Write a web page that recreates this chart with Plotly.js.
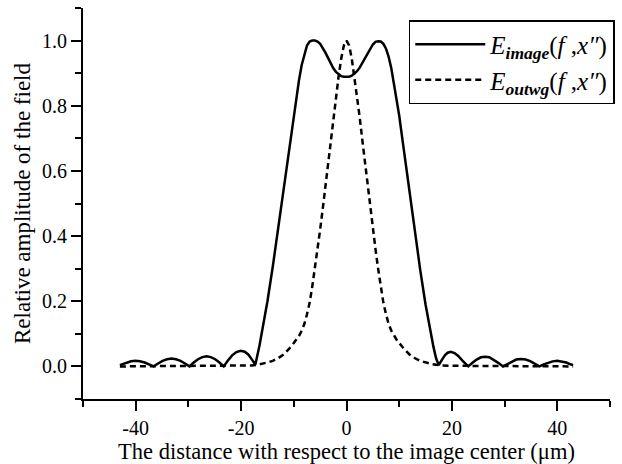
<!DOCTYPE html>
<html>
<head>
<meta charset="utf-8">
<script src="https://cdn.plot.ly/plotly-3.0.1.min.js"></script>
<style>body{margin:0;padding:0;background:#fff;} #chart{width:622px;height:464px;}</style>
</head>
<body>
<div id="chart"></div>
<script>
// E_image(f, x'') — solid curve
const imageX = [-43, -42.6, -41.8, -40.9, -40.05, -39.2, -38.3, -37.5, -36.6,
  -35.75, -34.9, -34.05, -33.2, -32.35, -31.5, -30.65, -29.8,
  -28.99, -28.17, -27.36, -26.55, -25.74, -24.92, -24.11, -23.3,
  -22.5, -21.7, -20.9, -20.1, -19.3, -18.6, -17.9, -17.3,
  -16.5, -16, -15.5, -15, -14, -13, -12, -11, -10.5, -10, -9.5, -9, -8.5, -8, -7.5, -7, -6.5, -6,
  -5.5, -5, -4.5, -4, -3.5, -3, -2.5, -2, -1.5, -1, -0.5, 0,
  0.5, 1, 1.5, 2, 2.5, 3, 3.5, 4, 4.5, 5, 5.5, 6, 6.5, 7, 7.5, 8, 8.5, 9, 9.5, 10, 10.5, 11,
  12, 13, 14, 15, 15.5, 16, 16.5, 17, 17.5,
  18.1, 18.7, 19.2, 19.8, 20.5, 21.2, 22, 22.6, 23.1,
  23.9, 24.7, 25.5, 26.3, 27.1, 27.9, 28.8, 29.7,
  30.55, 31.4, 32.2, 33.1, 34, 34.85, 35.7, 36.6,
  37.45, 38.3, 39.1, 40, 40.9, 41.7, 42.5, 43];
const imageY = [0.004, 0.0065, 0.012, 0.0157, 0.017, 0.0157, 0.012, 0.0065, 0.0,
  0.009, 0.017, 0.022, 0.024, 0.022, 0.017, 0.009, 0.0,
  0.012, 0.022, 0.0285, 0.031, 0.0285, 0.022, 0.012, 0.0,
  0.018, 0.034, 0.044, 0.048, 0.045, 0.036, 0.02, 0.005,
  0.065, 0.11, 0.155, 0.2, 0.305, 0.42, 0.54, 0.66, 0.72, 0.78, 0.835, 0.88, 0.925, 0.96, 0.985, 0.997, 1.0, 1.0,
  0.997, 0.99, 0.978, 0.963, 0.947, 0.93, 0.915, 0.904, 0.896, 0.891, 0.889, 0.888,
  0.889, 0.892, 0.898, 0.906, 0.917, 0.931, 0.947, 0.963, 0.977, 0.988, 0.996, 0.998, 0.997, 0.99, 0.975, 0.95, 0.915, 0.87, 0.825, 0.77, 0.71, 0.65,
  0.53, 0.41, 0.295, 0.19, 0.145, 0.1, 0.06, 0.025, 0.004,
  0.02, 0.035, 0.042, 0.045, 0.041, 0.032, 0.018, 0.008, 0.0,
  0.011, 0.021, 0.028, 0.03, 0.028, 0.021, 0.011, 0.0,
  0.008, 0.016, 0.021, 0.023, 0.021, 0.016, 0.008, 0.0,
  0.0065, 0.012, 0.0155, 0.017, 0.0155, 0.012, 0.0065, 0.004];

// E_outwg(f, x'') — dashed curve
const outwgX = [-43, -35, -30, -25, -20, -18, -17, -16, -15, -14, -13, -12, -11, -10, -9.5, -9, -8.5, -8, -7.5, -7, -6.5, -6,
  -5.5, -5, -4.5, -4, -3.5, -3, -2.5, -2, -1.5, -1, -0.5, 0,
  0.5, 1, 1.5, 2, 2.5, 3, 3.5, 4, 4.5, 5, 5.5, 6, 6.5, 7, 7.5, 8, 8.5, 9, 9.5, 10,
  11, 12, 13, 14, 15, 16, 17, 18, 20, 25, 30, 35, 43];
const outwgY = [0.0, 0.0005, 0.001, 0.0015, 0.002, 0.003, 0.005, 0.008, 0.012, 0.017, 0.025, 0.036, 0.052, 0.072, 0.082, 0.094, 0.11, 0.13, 0.16, 0.195, 0.245, 0.3,
  0.36, 0.42, 0.485, 0.555, 0.625, 0.695, 0.765, 0.83, 0.89, 0.945, 0.985, 1.0,
  0.985, 0.945, 0.89, 0.83, 0.765, 0.695, 0.625, 0.555, 0.485, 0.42, 0.36, 0.3, 0.245, 0.195, 0.16, 0.13, 0.11, 0.094, 0.082, 0.072,
  0.052, 0.036, 0.025, 0.017, 0.012, 0.008, 0.005, 0.003, 0.002, 0.0015, 0.001, 0.0005, 0.0];

const xTickVals = [-40, -20, 0, 20, 40];
const xTickText = ['-40', '-20', '0', '20', '40'];
const yTickVals = [0.0, 0.2, 0.4, 0.6, 0.8, 1.0];
const yTickText = ['0.0', '0.2', '0.4', '0.6', '0.8', '1.0'];

const nameImage = '<i>E</i><sub><b><i>image</i></b></sub>(<i>f</i> ,<i>x″</i>)';
const nameOutwg = '<i>E</i><sub><b><i>outwg</i></b></sub>(<i>f</i> ,<i>x″</i>)';

const FONT = 'Liberation Serif, serif';

const traces = [
  {x: imageX, y: imageY, type: 'scatter', mode: 'lines', name: nameImage,
   line: {color: '#000', width: 2.5}},
  {x: outwgX, y: outwgY, type: 'scatter', mode: 'lines', name: nameOutwg,
   line: {color: '#000', width: 2.5, dash: '6px,4px'}}
];

const layout = {
  width: 622, height: 464,
  margin: {l: 83, r: 7, t: 8, b: 65},
  paper_bgcolor: '#fff', plot_bgcolor: '#fff',
  font: {family: FONT, color: '#000', size: 20},
  showlegend: true,
  legend: {x: 1.009, y: 0.969, xanchor: 'right', yanchor: 'top',
    bgcolor: '#fff', bordercolor: '#000', borderwidth: 1.5,
    font: {family: FONT, size: 25, color: '#000'},
    itemwidth: 70, tracegroupgap: 0},
  xaxis: {
    range: [-50, 50], showline: true, linecolor: '#000', linewidth: 2,
    showgrid: false, zeroline: false, ticks: 'outside', ticklen: 10, tickwidth: 2, tickcolor: '#000',
    tickvals: xTickVals, ticktext: xTickText, tickfont: {family: FONT, size: 20},
    minor: {dtick: 10, tick0: 0, ticks: 'outside', ticklen: 6, tickwidth: 2, tickcolor: '#000', showgrid: false},
    title: {text: 'The distance with respect to the image center (μm)', font: {family: FONT, size: 22.5}, standoff: 4}
  },
  yaxis: {
    range: [-0.1, 1.1], showline: true, linecolor: '#000', linewidth: 2,
    showgrid: false, zeroline: false, ticks: 'outside', ticklen: 10, tickwidth: 2, tickcolor: '#000',
    tickvals: yTickVals, ticktext: yTickText, tickfont: {family: FONT, size: 20},
    minor: {dtick: 0.1, tick0: 0, ticks: 'outside', ticklen: 6, tickwidth: 2, tickcolor: '#000', showgrid: false},
    title: {text: 'Relative amplitude of the field', font: {family: FONT, size: 23}, standoff: 5}
  }
};

Plotly.newPlot('chart', traces, layout, {displayModeBar: false, staticPlot: true});
</script>
</body>
</html>
